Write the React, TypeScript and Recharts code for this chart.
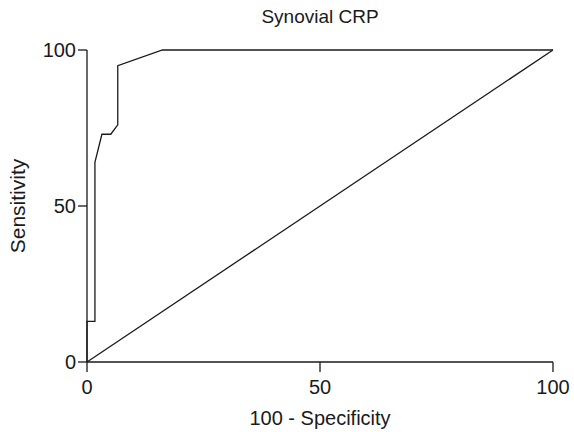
import React from 'react';
import { LineChart, Line, XAxis, YAxis } from 'recharts';

// ROC curve points (100 - specificity vs sensitivity)
const rocFalsePos = [0, 0, 1.7, 1.7, 3.2, 5.1, 6.6, 6.6, 16.2, 100];
const rocSensitivity = [0, 13, 13, 64, 73, 73, 76, 95, 100, 100];

// line of no discrimination
const diagFalsePos = [0, 100];
const diagSensitivity = [0, 100];

const axisTicks = [0, 50, 100];

const rocData = rocFalsePos.map((x, i) => ({ x, y: rocSensitivity[i] }));
const diagData = diagFalsePos.map((x, i) => ({ x, y: diagSensitivity[i] }));

const font = '"Liberation Sans", Arial, sans-serif';
const ink = '#1a1a1a';

export default function App() {
  return (
    <div style={{ position: 'absolute', left: 0, top: 0, width: 574, height: 432, background: '#fff', fontFamily: font }}>
      <div
        style={{
          position: 'absolute',
          left: 87,
          width: 466,
          top: 6,
          textAlign: 'center',
          fontSize: 19,
          color: ink,
        }}
      >
        Synovial CRP
      </div>
      <LineChart width={574} height={432} margin={{ top: 50, right: 21, bottom: 0, left: 0 }}>
        <XAxis
          type="number"
          dataKey="x"
          domain={[0, 100]}
          ticks={axisTicks}
          height={70}
          tickSize={10}
          tickMargin={8}
          stroke={ink}
          strokeWidth={1.3}
          tick={{ fill: ink, fontSize: 20, fontFamily: font }}
          label={{ value: '100 - Specificity', position: 'insideBottom', offset: 7, fill: ink, fontSize: 20, fontFamily: font }}
        />
        <YAxis
          type="number"
          dataKey="y"
          domain={[0, 100]}
          ticks={axisTicks}
          width={87}
          tickSize={9}
          tickMargin={2}
          stroke={ink}
          strokeWidth={1.3}
          tick={{ fill: ink, fontSize: 20, fontFamily: font }}
          label={{ value: 'Sensitivity', angle: -90, position: 'insideLeft', offset: 18, fill: ink, fontSize: 21, fontFamily: font, style: { textAnchor: 'middle' } }}
        />
        <Line
          data={diagData}
          dataKey="y"
          type="linear"
          stroke={ink}
          strokeWidth={1.3}
          dot={false}
          isAnimationActive={false}
        />
        <Line
          data={rocData}
          dataKey="y"
          type="linear"
          stroke={ink}
          strokeWidth={1.3}
          dot={false}
          isAnimationActive={false}
        />
      </LineChart>
    </div>
  );
}
